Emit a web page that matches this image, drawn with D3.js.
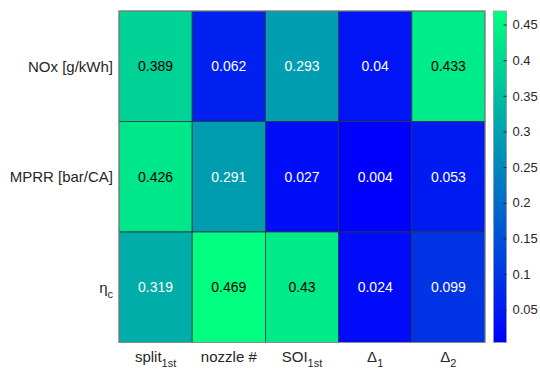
<!DOCTYPE html>
<html>
<head>
<meta charset="utf-8">
<script src="https://cdn.jsdelivr.net/npm/d3@7"></script>
<style>
  body { margin: 0; background: #fff; }
  svg text { font-family: "Liberation Sans", Arial, sans-serif; }
</style>
</head>
<body>
<svg id="chart"></svg>
<script>
// chart data
let rowNames = ['NOx', 'MPRR', 'eta']
let colNames = ['split', 'nozzle', 'SOI', 'd1', 'd2']
let noxValues = [0.389, 0.062, 0.293, 0.04, 0.433]
let mprrValues = [0.426, 0.291, 0.027, 0.004, 0.053]
let etaValues = [0.319, 0.469, 0.43, 0.024, 0.099]
let cbTicks = [0.05, 0.1, 0.15, 0.2, 0.25, 0.3, 0.35, 0.4, 0.45]

let width = 540
let height = 370
let mLeft = 119, mRight = 485, mTop = 11, mBottom = 342.5

let svg = d3.select('#chart')
            .attr('width', width)
            .attr('height', height)

let allRows = [noxValues, mprrValues, etaValues]
let cells = []
allRows.forEach((vals, r) => {
    vals.forEach((v, c) => cells.push({row: rowNames[r], col: colNames[c], value: v}))
})

let minV = d3.min(cells, d => d.value)
let maxV = d3.max(cells, d => d.value)

// MATLAB "winter" colormap
let winter = t => d3.rgb(0, 255 * t, 255 * (1 - t / 2)).toString()
let color = d3.scaleSequential(winter).domain([minV, maxV])

let xScale = d3.scaleBand().domain(colNames).range([mLeft, mRight])
let yScale = d3.scaleBand().domain(rowNames).range([mTop, mBottom])

// cells
svg.selectAll('rect.cell')
    .data(cells)
    .enter()
    .append('rect')
    .attr('class', 'cell')
    .attr('x', d => xScale(d.col))
    .attr('y', d => yScale(d.row))
    .attr('width', xScale.bandwidth())
    .attr('height', yScale.bandwidth())
    .attr('fill', d => color(d.value))
    .attr('stroke', '#2a3a3a')
    .attr('stroke-width', 0.8)

svg.selectAll('text.val')
    .data(cells)
    .enter()
    .append('text')
    .attr('class', 'val')
    .attr('x', d => xScale(d.col) + xScale.bandwidth() / 2)
    .attr('y', d => yScale(d.row) + yScale.bandwidth() / 2)
    .attr('dy', '0.35em')
    .attr('text-anchor', 'middle')
    .attr('font-size', 14)
    .attr('fill', d => (d.value - minV) / (maxV - minV) > 0.75 ? '#000' : '#fff')
    .text(d => d.value)

// outer frame
svg.append('rect')
    .attr('x', mLeft).attr('y', mTop)
    .attr('width', mRight - mLeft).attr('height', mBottom - mTop)
    .attr('fill', 'none')
    .attr('stroke', '#9a9a9a')
    .attr('stroke-width', 0.8)

// row labels
let rowLabel = {NOx: ['NOx [g/kWh]', null], MPRR: ['MPRR [bar/CA]', null], eta: ['\u03b7', 'c']}
rowNames.forEach(r => {
    let t = svg.append('text')
        .attr('x', mLeft - 6)
        .attr('y', yScale(r) + yScale.bandwidth() / 2)
        .attr('dy', '0.35em')
        .attr('text-anchor', 'end')
        .attr('font-size', 15)
        .attr('fill', '#262626')
    t.append('tspan').text(rowLabel[r][0])
    if (rowLabel[r][1]) {
        t.append('tspan').attr('font-size', 11).attr('dy', 5).text(rowLabel[r][1])
    }
})

// column labels
let colLabel = {split: ['split', '1st'], nozzle: ['nozzle #', null], SOI: ['SOI', '1st'],
                d1: ['\u0394', '1'], d2: ['\u0394', '2']}
colNames.forEach(c => {
    let t = svg.append('text')
        .attr('x', xScale(c) + xScale.bandwidth() / 2)
        .attr('y', mBottom + 19)
        .attr('text-anchor', 'middle')
        .attr('font-size', 15)
        .attr('fill', '#262626')
    t.append('tspan').text(colLabel[c][0])
    if (colLabel[c][1]) {
        t.append('tspan').attr('font-size', 11).attr('dy', 5).text(colLabel[c][1])
    }
})

// colorbar
let cbX = 493.5, cbW = 13
let cbScale = d3.scaleLinear().domain([minV, maxV]).range([mBottom, mTop])

let defs = svg.append('defs')
let grad = defs.append('linearGradient')
    .attr('id', 'cbgrad')
    .attr('x1', 0).attr('y1', 1).attr('x2', 0).attr('y2', 0)
d3.range(0, 1.01, 0.1).forEach(t => {
    grad.append('stop').attr('offset', t).attr('stop-color', winter(t))
})

svg.append('rect')
    .attr('x', cbX).attr('y', mTop)
    .attr('width', cbW).attr('height', mBottom - mTop)
    .attr('fill', 'url(#cbgrad)')
    .attr('stroke', '#9a9a9a')
    .attr('stroke-width', 0.8)

let cbAxis = d3.axisRight(cbScale)
    .tickValues(cbTicks)
    .tickSize(3)
    .tickFormat(d3.format('~g'))

let cbG = svg.append('g')
    .attr('transform', 'translate(' + (cbX + cbW) + ',0)')
    .call(cbAxis)
cbG.select('.domain').remove()
cbG.selectAll('.tick line').attr('x2', -3).attr('stroke', '#262626')
cbG.selectAll('.tick text')
    .attr('x', 6)
    .attr('font-size', 13)
    .attr('font-family', '"Liberation Sans", Arial, sans-serif')
    .attr('fill', '#262626')
</script>
</body>
</html>
